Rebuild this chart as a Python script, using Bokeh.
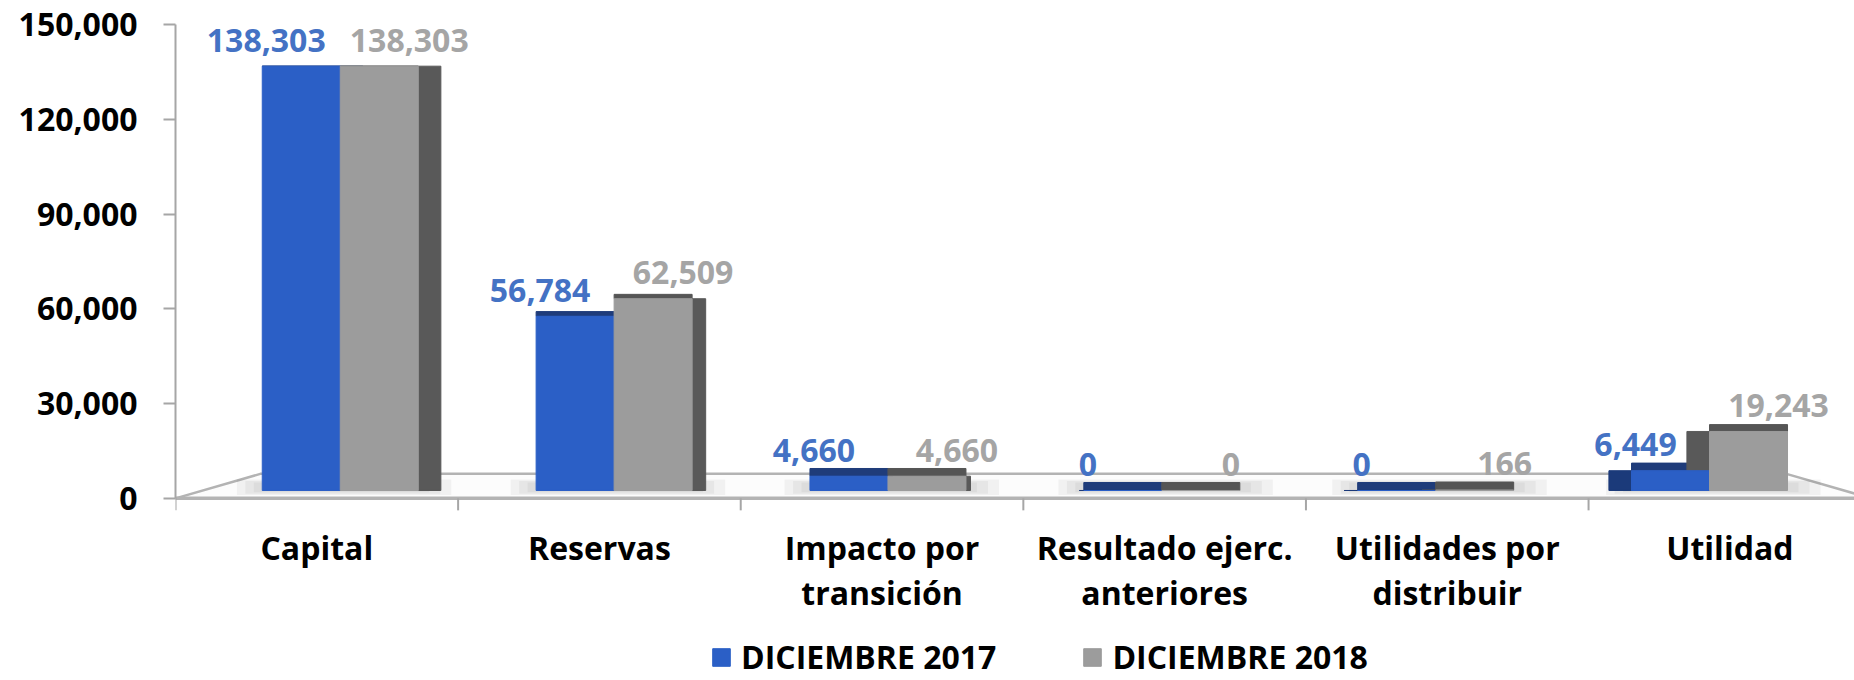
from bokeh.plotting import figure
from bokeh.models import (Range1d, FixedTicker, NumeralTickFormatter,
                          ColumnDataSource, Legend, LegendItem)
from bokeh.core.properties import value
from bokeh.embed import file_html
from bokeh.resources import INLINE

# ---------------- data ----------------
categories_line1 = ["Capital", "Reservas", "Impacto por", "Resultado ejerc.", "Utilidades por", "Utilidad"]
categories_line2 = ["", "", "transición", "anteriores", "distribuir", ""]
dic_2017 = [138303, 56784, 4660, 0, 0, 6449]
dic_2018 = [138303, 62509, 4660, 0, 166, 19243]
series_names = ["DICIEMBRE 2017", "DICIEMBRE 2018"]
y_ticks = [0, 30000, 60000, 90000, 120000, 150000]

# ---------------- style ----------------
FONT_NAME = "Open Sans"
FONT = value(FONT_NAME)
FS = "32px"
FRONT = ["#2B5FC6", "#9C9C9C"]
SIDE = ["#1B3A7A", "#595959"]
TOP = ["#1F3C7A", "#555555"]
LABEL = ["#4472C4", "#A5A5A5"]
AXIS_GRAY = "#A6A6A6"
BAR_W = 0.276
Y_MAX = 150000

n = len(categories_line1)
centers = [i + 0.5 for i in range(n)]
bounds = list(range(n + 1))
persp = [0.083 - 0.031 * i for i in range(n)]      # perspective shift of each group
sidew = [0.08 - 0.032 * i for i in range(n)]       # visible side-face width
vmax = max(dic_2017 + dic_2018)

p = figure(width=1854, height=678, output_backend="svg", toolbar_location=None,
           x_range=Range1d(0, 5.941), y_range=Range1d(-57025, Y_MAX),
           x_axis_location=None,
           min_border_left=175, min_border_right=0, min_border_top=24, min_border_bottom=0)
# bars stand on the middle of the floor, slightly smaller scale (depth plane)
p.extra_y_ranges = {"bars": Range1d(-61278, 151890)}
p.grid.visible = False
p.outline_line_color = None

# floor of the 3-D chart
FLOOR_DEPTH = 7753
TICK_LEN = 3797
p.patch(x=[0, 0.3, 5.7, 6.0], y=[0, FLOOR_DEPTH, FLOOR_DEPTH, 0],
        fill_color="#FCFCFC", line_color="#B3B3B3", line_width=2.5)
p.segment(x0=[0], y0=[0], x1=[6.0], y1=[0], line_color="#B3B3B3", line_width=3.5)
p.segment(x0=bounds, y0=[0] * len(bounds), x1=bounds, y1=[-TICK_LEN] * len(bounds),
          line_color=AXIS_GRAY, line_width=2)

# soft shadows under each group
gl = [c - BAR_W + d for c, d in zip(centers, persp)]
gr = [c + BAR_W + d for c, d in zip(centers, persp)]
for ex, b, t in [(0.09, -1500, 3600), (0.06, -1100, 3100), (0.03, -600, 2600)]:
    p.quad(left=[x - ex for x in gl], right=[x + ex * 1.3 for x in gr], bottom=b, top=t,
           fill_color="black", fill_alpha=0.045, line_color=None, y_range_name="bars")

fronts = []
for s, vals in enumerate([dic_2017, dic_2018]):
    xc = [c + (s - 0.5) * BAR_W + d for c, d in zip(centers, persp)]
    left, right = [], []
    for x, w in zip(xc, sidew):
        if w > 0:
            left.append(x + BAR_W / 2); right.append(x + BAR_W / 2 + w)
        else:
            right.append(x - BAR_W / 2); left.append(x - BAR_W / 2 + w)
    src = ColumnDataSource(dict(
        x=xc, top=vals, left=left, right=right,
        ttop=[v + 2600 * (1 - v / vmax) for v in vals],
        bl=[x - BAR_W / 2 for x in xc], br=[x + BAR_W / 2 for x in xc],
        label=[f"{v:,}" for v in vals]))
    p.quad(left="left", right="right", bottom=0, top="top", source=src,
           fill_color=SIDE[s], line_color=SIDE[s], y_range_name="bars")
    p.quad(left="bl", right="br", bottom="top", top="ttop", source=src,
           fill_color=TOP[s], line_color=TOP[s], y_range_name="bars")
    fronts.append((s, src))

renderers = []
for s, src in fronts:
    r = p.vbar(x="x", top="top", bottom=0, width=BAR_W, source=src,
               fill_color=FRONT[s], line_color=FRONT[s], y_range_name="bars")
    renderers.append(r)

for s, src in fronts:
    p.text(x="x", y="top", text="label", source=src, y_range_name="bars",
           x_offset=(-35 if s == 0 else 30), y_offset=-26,
           text_align="center", text_baseline="middle",
           text_font=FONT, text_font_size=FS, text_font_style="bold",
           text_color=LABEL[s])

# category labels (two lines)
for texts, off in [(categories_line1, 49), (categories_line2, 94)]:
    p.text(x=centers, y=[0] * n, text=texts, y_offset=off,
           text_align="center", text_baseline="middle",
           text_font=FONT, text_font_size=FS, text_font_style="bold",
           text_color="black")

# y axis
ya = p.yaxis[0]
ya.bounds = (0, Y_MAX)
ya.ticker = FixedTicker(ticks=y_ticks)
ya.formatter = NumeralTickFormatter(format="0,0")
ya.axis_line_color = AXIS_GRAY
ya.axis_line_width = 2
ya.major_tick_line_color = AXIS_GRAY
ya.major_tick_line_width = 2
ya.major_tick_out = 12
ya.major_tick_in = 0
ya.minor_tick_line_color = None
ya.major_label_standoff = 26
ya.major_label_text_font = FONT_NAME
ya.major_label_text_font_size = FS
ya.major_label_text_font_style = "bold"
ya.major_label_text_color = "black"

legend = Legend(items=[LegendItem(label=series_names[i], renderers=[renderers[i]]) for i in range(2)],
                orientation="horizontal", location=(535, 0))
legend.label_text_font = FONT_NAME
legend.label_text_font_size = FS
legend.label_text_font_style = "bold"
legend.label_text_color = "black"
legend.glyph_width = 22
legend.glyph_height = 22
legend.label_standoff = 9
legend.spacing = 85
legend.padding = 0
legend.margin = 0
legend.border_line_color = None
legend.background_fill_alpha = 0
p.add_layout(legend, "center")

open("out.html", "w").write(file_html(p, INLINE))
